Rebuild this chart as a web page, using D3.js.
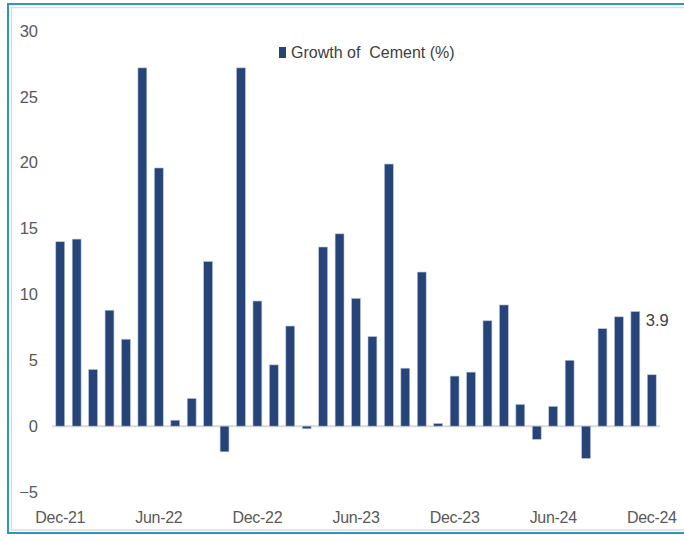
<!DOCTYPE html>
<html>
<head>
<meta charset="utf-8">
<script src="https://cdn.jsdelivr.net/npm/d3@7"></script>
<style>
  html, body { margin: 0; padding: 0; background: #fff; }
  svg { display: block; }
</style>
</head>
<body>
<svg id="chart" width="684" height="541"></svg>
<script>
const months = ["Dec-21","Jan-22","Feb-22","Mar-22","Apr-22","May-22","Jun-22","Jul-22","Aug-22","Sep-22","Oct-22","Nov-22",
  "Dec-22","Jan-23","Feb-23","Mar-23","Apr-23","May-23","Jun-23","Jul-23","Aug-23","Sep-23","Oct-23","Nov-23",
  "Dec-23","Jan-24","Feb-24","Mar-24","Apr-24","May-24","Jun-24","Jul-24","Aug-24","Sep-24","Oct-24","Nov-24","Dec-24"];
const growth = [14.0, 14.2, 4.3, 8.8, 6.6, 27.2, 19.6, 0.45, 2.1, 12.5, -1.95, 27.2,
  9.5, 4.65, 7.6, -0.2, 13.6, 14.6, 9.7, 6.8, 19.9, 4.4, 11.7, 0.2,
  3.8, 4.1, 8.0, 9.2, 1.65, -1.0, 1.5, 5.0, -2.45, 7.4, 8.3, 8.7, 3.9];
const xTickLabels = ["Dec-21","Jun-22","Dec-22","Jun-23","Dec-23","Jun-24","Dec-24"];
const yTicks = [-5, 0, 5, 10, 15, 20, 25, 30];
const seriesName = "Growth of  Cement (%)";
const lastLabel = "3.9";

const svg = d3.select("#chart");
const W = 684, H = 541;
const font = "'Liberation Sans Narrow', 'Arial Narrow', 'Liberation Sans', sans-serif";
const textColor = "#595959";
const barColor = "#264478";

// frame
svg.append("line").attr("x1", 8).attr("x2", W).attr("y1", 4).attr("y2", 4).attr("stroke", "#2e97b7").attr("stroke-width", 2);
svg.append("line").attr("x1", 8).attr("x2", 8).attr("y1", 3).attr("y2", 534).attr("stroke", "#2e97b7").attr("stroke-width", 2);
svg.append("line").attr("x1", 7).attr("x2", W).attr("y1", 533).attr("y2", 533).attr("stroke", "#2e97b7").attr("stroke-width", 2);
svg.append("line").attr("x1", 11).attr("x2", W).attr("y1", 7.5).attr("y2", 7.5).attr("stroke", "#dcdcdc").attr("stroke-width", 1.5);
svg.append("line").attr("x1", 11.5).attr("x2", 11.5).attr("y1", 7).attr("y2", 530).attr("stroke", "#dcdcdc").attr("stroke-width", 1.5);
svg.append("line").attr("x1", 11).attr("x2", W).attr("y1", 530).attr("y2", 530).attr("stroke", "#dcdcdc").attr("stroke-width", 1.5);

const x = d3.scaleBand().domain(months).range([52, 660]).paddingInner(0.46).paddingOuter(0.23);
const y = d3.scaleLinear().domain([-5, 30]).range([492, 31]);

// y axis
const yAxis = d3.axisLeft(y).tickValues(yTicks).tickSize(0).tickPadding(0).tickFormat(d3.format("d"));
const yg = svg.append("g").attr("transform", "translate(38,0)").call(yAxis);
yg.select(".domain").remove();
yg.selectAll("text").attr("font-family", font).attr("font-size", 16.5).attr("fill", textColor);

// zero line
svg.append("line").attr("x1", 52).attr("x2", 660).attr("y1", y(0)).attr("y2", y(0))
  .attr("stroke", "#d9d9d9").attr("stroke-width", 2);

// bars
svg.append("g").selectAll("rect").data(growth).join("rect")
  .attr("x", (d, i) => x(months[i]))
  .attr("width", x.bandwidth())
  .attr("y", d => y(Math.max(0, d)))
  .attr("height", d => Math.abs(y(d) - y(0)))
  .attr("fill", barColor)
  .attr("stroke", "#b4c2da")
  .attr("stroke-width", 0.6);

// x axis
const xAxis = d3.axisBottom(x).tickValues(xTickLabels).tickSize(0).tickPadding(0);
const xg = svg.append("g").attr("transform", "translate(0,508)").call(xAxis);
xg.select(".domain").remove();
xg.selectAll("text").attr("font-family", font).attr("font-size", 16).attr("letter-spacing", -0.3)
  .attr("fill", textColor).attr("dy", "0.71em").attr("y", 4);

// data label for last bar
const lastIdx = growth.length - 1;
svg.append("text")
  .attr("x", x(months[lastIdx]) + x.bandwidth() / 2 - 6)
  .attr("y", y(growth[lastIdx]) - 49)
  .attr("font-family", font).attr("font-size", 16.5).attr("fill", "#404040")
  .text(lastLabel);

// legend
svg.append("rect").attr("x", 279).attr("y", 47).attr("width", 7).attr("height", 11).attr("fill", barColor);
svg.append("text").attr("x", 291).attr("y", 58).attr("font-family", font).attr("font-size", 16)
  .attr("fill", "#404040").attr("xml:space", "preserve").style("white-space", "pre").text(seriesName);
</script>
</body>
</html>
